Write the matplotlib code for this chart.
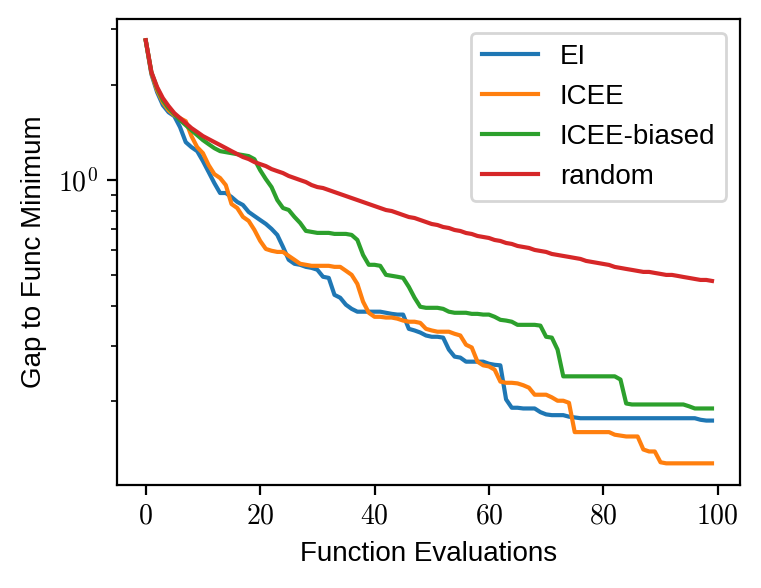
import numpy as np
import matplotlib
matplotlib.use("Agg")
import matplotlib.pyplot as plt
from matplotlib.ticker import FixedLocator, FuncFormatter, NullFormatter, LogLocator

plt.rcParams['font.family'] = ['Liberation Sans', 'DejaVu Sans']
plt.rcParams['mathtext.fontset'] = 'cm'
plt.rcParams['font.size'] = 10

evals = list(range(100))

ei = [2.760, 2.157, 1.893, 1.723, 1.637, 1.591, 1.469, 1.317, 1.270, 1.234,
      1.148, 1.060, 0.978, 0.910, 0.910, 0.884, 0.853, 0.834, 0.793, 0.770,
      0.748, 0.727, 0.701, 0.671, 0.615, 0.560, 0.544, 0.540, 0.532, 0.528,
      0.521, 0.495, 0.491, 0.434, 0.425, 0.404, 0.392, 0.384, 0.384, 0.384,
      0.384, 0.384, 0.381, 0.378, 0.376, 0.376, 0.339, 0.335, 0.330, 0.323,
      0.320, 0.320, 0.318, 0.2915, 0.277, 0.275, 0.267, 0.267, 0.267, 0.267,
      0.263, 0.261, 0.260, 0.203, 0.191, 0.191, 0.190, 0.190, 0.190, 0.185,
      0.182, 0.181, 0.181, 0.181, 0.179, 0.178, 0.177, 0.177, 0.177, 0.177,
      0.177, 0.177, 0.177, 0.177, 0.177, 0.177, 0.177, 0.177, 0.177, 0.177,
      0.177, 0.177, 0.177, 0.177, 0.177, 0.177, 0.177, 0.175, 0.174, 0.174]

icee = [2.760, 2.173, 1.921, 1.760, 1.661, 1.602, 1.568, 1.534, 1.376, 1.270,
        1.216, 1.115, 1.044, 1.015, 0.964, 0.840, 0.816, 0.765, 0.743, 0.696,
        0.643, 0.606, 0.598, 0.593, 0.593, 0.576, 0.560, 0.544, 0.540, 0.536,
        0.536, 0.536, 0.536, 0.532, 0.532, 0.517, 0.502, 0.470, 0.413, 0.381,
        0.370, 0.370, 0.368, 0.368, 0.365, 0.360, 0.357, 0.357, 0.354, 0.339,
        0.335, 0.332, 0.332, 0.332, 0.327, 0.323, 0.302, 0.296, 0.267, 0.260,
        0.258, 0.252, 0.231, 0.229, 0.229, 0.228, 0.225, 0.221, 0.210, 0.210,
        0.210, 0.206, 0.201, 0.201, 0.198, 0.160, 0.160, 0.160, 0.160, 0.160,
        0.160, 0.160, 0.157, 0.156, 0.155, 0.155, 0.155, 0.141, 0.139, 0.139,
        0.1285, 0.1275, 0.1275, 0.1275, 0.1275, 0.1275, 0.1275, 0.1275, 0.1275, 0.1275]

icee_biased = [2.760, 2.188, 1.949, 1.786, 1.685, 1.614, 1.545, 1.490, 1.437, 1.386,
               1.337, 1.298, 1.261, 1.234, 1.225, 1.216, 1.207, 1.199, 1.190, 1.164,
               1.075, 1.007, 0.950, 0.865, 0.816, 0.8045, 0.765, 0.732, 0.691, 0.686,
               0.681, 0.681, 0.681, 0.676, 0.676, 0.676, 0.671, 0.647, 0.580, 0.540,
               0.540, 0.536, 0.502, 0.4985, 0.495, 0.491, 0.460, 0.425, 0.398, 0.395,
               0.395, 0.395, 0.392, 0.384, 0.381, 0.381, 0.381, 0.378, 0.378, 0.376,
               0.376, 0.370, 0.362, 0.360, 0.357, 0.349, 0.349, 0.349, 0.349, 0.347,
               0.320, 0.318, 0.2915, 0.240, 0.240, 0.240, 0.240, 0.240, 0.240, 0.240,
               0.240, 0.240, 0.240, 0.2345, 0.197, 0.1956, 0.1956, 0.1956, 0.1956, 0.1956,
               0.1956, 0.1956, 0.1956, 0.1956, 0.1956, 0.193, 0.190, 0.190, 0.190, 0.190]

random_ = [2.765, 2.191, 1.965, 1.814, 1.712, 1.627, 1.569, 1.513, 1.459, 1.418,
           1.377, 1.347, 1.318, 1.290, 1.262, 1.234, 1.208, 1.182, 1.165, 1.140,
           1.123, 1.107, 1.083, 1.067, 1.052, 1.030, 1.015, 1.000, 0.9856, 0.9643,
           0.9504, 0.9436, 0.9300, 0.9165, 0.9033, 0.8903, 0.8774, 0.8648, 0.8523, 0.8400,
           0.8279, 0.8160, 0.8042, 0.7984, 0.7869, 0.7755, 0.7643, 0.7588, 0.7479, 0.7371,
           0.7265, 0.7212, 0.7108, 0.7057, 0.6955, 0.6905, 0.6805, 0.6756, 0.6659, 0.6611,
           0.6563, 0.6468, 0.6422, 0.6329, 0.6284, 0.6193, 0.6148, 0.6104, 0.6016, 0.5972,
           0.5929, 0.5843, 0.5801, 0.5759, 0.5718, 0.5676, 0.5635, 0.5554, 0.5514, 0.5474,
           0.5434, 0.5395, 0.5317, 0.5279, 0.5240, 0.5203, 0.5165, 0.5128, 0.5128, 0.5090,
           0.5054, 0.5017, 0.5017, 0.4981, 0.4943, 0.4908, 0.4872, 0.4837, 0.4837, 0.4802]

series = [("EI", ei, "#1f77b4"), ("ICEE", icee, "#ff7f0e"),
          ("ICEE-biased", icee_biased, "#2ca02c"), ("random", random_, "#d62728")]

fig = plt.figure(figsize=(761 / 200, 588 / 200), dpi=200)
ax = fig.add_axes([117.4 / 761, 1 - 484.5 / 588, (740.3 - 117.4) / 761, (484.5 - 19.0) / 588])

for name, vals, col in series:
    ax.plot(evals, vals, color=col, linewidth=1.5, label=name)

ax.set_yscale('log')
ax.xaxis.set_major_locator(FixedLocator([0, 20, 40, 60, 80, 100]))
ax.xaxis.set_major_formatter(FuncFormatter(lambda v, p: r'$%d$' % int(round(v))))
ax.yaxis.set_major_formatter(FuncFormatter(lambda v, p: r'$10^{%d}$' % int(round(np.log10(v)))))
ax.yaxis.set_minor_formatter(NullFormatter())

ax.set_xlabel('Function Evaluations')
ax.set_ylabel('Gap to Func Minimum')
ax.legend(loc='upper right')

fig.savefig('out.png', dpi=200)
